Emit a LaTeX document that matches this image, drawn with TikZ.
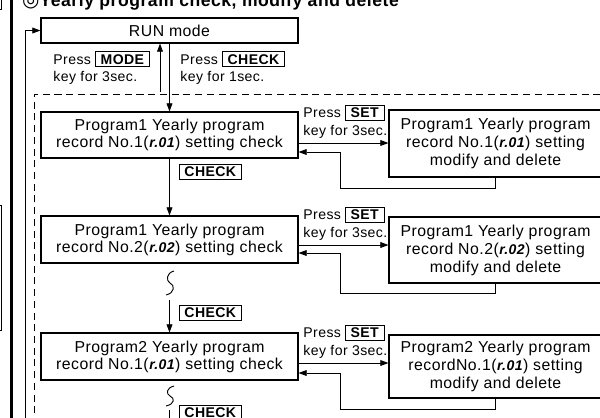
\documentclass[tikz,border=0pt]{standalone}
\usepackage{fontspec}
\setmainfont{Liberation Sans}[LetterSpace=3]
\newfontfamily\symf{DejaVu Sans}
\usetikzlibrary{arrows.meta, calc}
\setlength{\fboxsep}{1.8pt}
\setlength{\fboxrule}{0.7pt}
\newcommand{\keyb}[1]{\fbox{\hspace{2pt}\textbf{#1}\hspace{2pt}}}
\newcommand{\segd}[1]{{\large\textbf{\textit{#1}}}}
\tikzset{
  box/.style={draw, line width=0.9pt, minimum width=7.71cm, align=center, inner sep=0pt, font=\fontsize{13.5}{14.5}\selectfont},
  ebox/.style={box, minimum width=6.39cm, font=\fontsize{13.5}{15.3}\selectfont},
  lin/.style={line width=0.8pt},
  tra/.style={lin, -{Triangle[length=7pt,width=5pt]}},
  lab/.style={font=\fontsize{12}{15}\selectfont, align=left, inner sep=1pt, anchor=west},
  klab/.style={font=\fontsize{12}{13}\selectfont, inner sep=0pt},
  frame/.style={dash pattern=on 6pt off 4pt, line width=0.7pt}
}
\newcommand{\editloop}[5]{%
  \draw[tra] (#1.east |- 0,#3) -- (#2.west |- 0,#3);
  \node[lab] (s#1) at (302,#3-21.5) {Press \keyb{SET}\\key for 3sec.};
  \draw[tra] (#2.south) -- (#2.south |- 0,#5) -- (340,#5) -- (340,#4) -- (#1.east |- 0,#4);}

\begin{document}
\begin{tikzpicture}[x=0.03cm, y=-0.03cm]
  \useasboundingbox (0,0) rectangle (600,417);
  \clip (0,0) rectangle (600,417);
  % page edge
  \draw[lin] (-20,-20) rectangle (1.5,9);
  \draw[lin] (-20,205) rectangle (1.5,330);
  \draw[line width=1.8pt] (11.5,-5) -- (11.5,425);
  \node[anchor=base west, inner sep=0pt, font=\fontsize{15}{17}\selectfont\bfseries] (ttl) at (22,6) {{\symf\mdseries\fontsize{17}{17}\selectfont ◎}Yearly program check, modify and delete};
  % boxes
  \node[box, minimum height=0.75cm] (run) at (169.5,30.5) {RUN mode};
  \node[box, minimum height=1.38cm] (p1) at (169.5,135) {Program1 Yearly program\\record No.1(\segd{r.01}) setting check};
  \node[box, minimum height=1.41cm] (p2) at (169.5,239.5) {Program1 Yearly program\\record No.2(\segd{r.02}) setting check};
  \node[box, minimum height=1.41cm] (p3) at (169.5,356.5) {Program2 Yearly program\\record No.1(\segd{r.01}) setting check};
  \node[ebox, minimum height=2.01cm] (e1) at (495.5,143.5) {Program1 Yearly program\\record No.1(\segd{r.01}) setting\\modify and delete};
  \node[ebox, minimum height=1.98cm] (e2) at (495.5,250) {Program1 Yearly program\\record No.2(\segd{r.02}) setting\\modify and delete};
  \node[ebox, minimum height=1.89cm] (e3) at (495.5,366.5) {Program2 Yearly program\\recordNo.1(\segd{r.01}) setting\\modify and delete};
  % mode keys
  \draw[frame] (34,425) -- (34,94) -- (605,94);
  \coordinate (fb) at (25,425);
  \draw[tra] (fb) |- (run.west);
  \coordinate (mo) at (160,92);
  \draw[tra] (mo) -- (mo |- run.south);
  \draw[tra] (run.south) -- (p1.north);
  \node[lab] (lm) at (52,68) {Press \keyb{MODE}\\key for 3sec.};
  \node[lab] (lc) at (179,68) {Press \keyb{CHECK}\\key for 1sec.};
  % check steps
  \draw[tra] (p1.south) -- (p2.north);
  \node[klab] (k1) at (210.5,172) {\keyb{CHECK}};
  \draw[lin] (174,271) .. controls (166,273) and (166,281) .. (170,283) .. controls (175,285) and (175,293) .. (166,295);
  \coordinate (c1) at (169.5,300);
  \draw[tra] (c1) -- (p3.north);
  \node[klab] (k2) at (210.5,313) {\keyb{CHECK}};
  \draw[lin] (174,386) .. controls (166,388) and (166,394) .. (170,396) .. controls (175,398) and (175,404) .. (166,406);
  \coordinate (c2) at (169.5,410);
  \coordinate (c3) at (169.5,445);
  \draw[tra] (c2) -- (c3);
  \node[klab] (k3) at (210.5,413) {\keyb{CHECK}};
  % set key loops
  \editloop{p1}{e1}{143}{152}{188}
  \editloop{p2}{e2}{245}{253}{293}
  \editloop{p3}{e3}{363}{373}{409}
\end{tikzpicture}
\end{document}
